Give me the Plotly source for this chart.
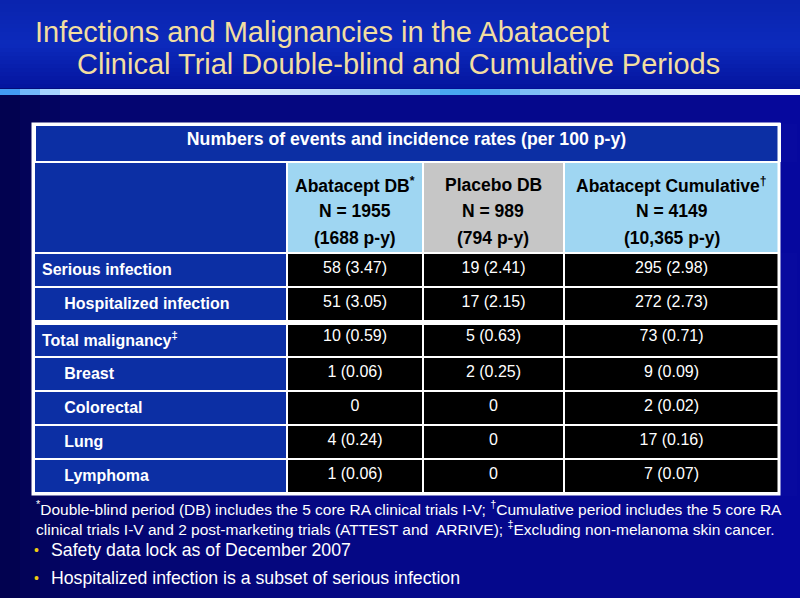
import plotly.graph_objects as go

W, H = 800, 598

# ---------------- data ----------------
title_lines = ["Infections and Malignancies in the Abatacept",
               "Clinical Trial Double-blind and Cumulative Periods"]
table_caption = "Numbers of events and incidence rates (per 100 p-y)"

group_names = ["Abatacept DB<sup>*</sup>", "Placebo DB", "Abatacept Cumulative<sup>†</sup>"]
group_n = ["1955", "989", "4149"]
group_py = ["1688", "794", "10,365"]

row_labels = ["Serious infection", "Hospitalized infection", "Total malignancy<sup>‡</sup>",
              "Breast", "Colorectal", "Lung", "Lymphoma"]
row_indent = [0, 1, 0, 1, 1, 1, 1]

abatacept_db_events = [58, 51, 10, 1, 0, 4, 1]
abatacept_db_rates = [3.47, 3.05, 0.59, 0.06, None, 0.24, 0.06]
placebo_db_events = [19, 17, 5, 2, 0, 0, 0]
placebo_db_rates = [2.41, 2.15, 0.63, 0.25, None, None, None]
cumulative_events = [295, 272, 73, 9, 2, 17, 7]
cumulative_rates = [2.98, 2.73, 0.71, 0.09, 0.02, 0.16, 0.07]

footnotes = [
    "<sup>*</sup>Double-blind period (DB) includes the 5 core RA clinical trials I-V; <sup>†</sup>Cumulative period includes the 5 core RA",
    "clinical trials I-V and 2 post-marketing trials (ATTEST and  ARRIVE); <sup>‡</sup>Excluding non-melanoma skin cancer.",
]
bullets = ["Safety data lock as of December 2007",
           "Hospitalized infection is a subset of serious infection"]

# ---------------- helpers ----------------
def fmt(events, rates):
    out = []
    for e, r in zip(events, rates):
        out.append(f"{e}" if (e == 0 or r is None) else f"{e} ({r:.2f})")
    return out

def px_y(y):
    return 1 - y / H

def px_x(x):
    return x / W

def lerp(c1, c2, t):
    a = [int(c1[i:i + 2], 16) for i in (1, 3, 5)]
    b = [int(c2[i:i + 2], 16) for i in (1, 3, 5)]
    return "#%02x%02x%02x" % tuple(round(a[k] + (b[k] - a[k]) * t) for k in range(3))

def grad(stops, t):
    for i in range(len(stops) - 1):
        t0, c0 = stops[i]
        t1, c1 = stops[i + 1]
        if t0 <= t <= t1:
            return lerp(c0, c1, (t - t0) / (t1 - t0) if t1 > t0 else 0)
    return stops[-1][1]

shapes = []
# body background: horizontal gradient
body_stops = [(0, "#02024c"), (0.1, "#04056c"), (0.5, "#05088a"), (0.9, "#0609 90".replace(" ", "")), (1, "#0608a0")]
N = 40
for i in range(N):
    t = (i + 0.5) / N
    shapes.append(dict(type="rect", xref="paper", yref="paper", layer="below",
                       x0=i / N, x1=(i + 1) / N + 0.002, y0=0, y1=px_y(88),
                       fillcolor=grad(body_stops, t), line=dict(width=0)))
# title band: vertical gradient
band_stops = [(0, "#0a24ae"), (0.5, "#0c2abc"), (1, "#04149e")]
M = 22
for i in range(M):
    t = (i + 0.5) / M
    shapes.append(dict(type="rect", xref="paper", yref="paper", layer="below",
                       x0=0, x1=1, y0=px_y(88 * (i + 1) / M + 0.5), y1=px_y(88 * i / M),
                       fillcolor=grad(band_stops, t), line=dict(width=0)))
# light rule under the title
rule_stops = [(0, "#2a8cf0"), (0.05, "#8cc8ff"), (0.1, "#f4f8ff"), (0.3, "#e8f0ff"),
              (0.45, "#a8cef8"), (0.58, "#3aa0f0"), (0.7, "#9ccaf8"), (0.85, "#e8f2ff"), (1, "#ffffff")]
for i in range(N):
    t = (i + 0.5) / N
    shapes.append(dict(type="rect", xref="paper", yref="paper", layer="below",
                       x0=i / N, x1=(i + 1) / N + 0.002, y0=px_y(95), y1=px_y(89),
                       fillcolor=grad(rule_stops, t), line=dict(width=0)))

# ---------------- table ----------------
blue = "#0c2fa4"
light = "#9fd6f2"
grey = "#c6c6c6"
black = "#000000"
tfont = "Liberation Sans, Arial"
col_widths = [253, 136, 141, 215]

label_cells = [("\u00a0" * 5 if ind else "") + "<b>" + lab + "</b>"
               for lab, ind in zip(row_labels, row_indent)]
cell_cols = [label_cells,
             fmt(abatacept_db_events, abatacept_db_rates),
             fmt(placebo_db_events, placebo_db_rates),
             fmt(cumulative_events, cumulative_rates)]

x0t, x1t = 34, 779
fig = go.Figure()
fig.add_trace(go.Table(
    domain=dict(x=[px_x(x0t), px_x(x1t)], y=[px_y(162), px_y(124)]),
    header=dict(values=[table_caption], fill_color=blue, align="center",
                font=dict(family=tfont, size=17.7, color="white", weight="bold"),
                line=dict(color="white", width=3), height=38),
    cells=dict(values=[[]], fill_color=blue, line=dict(color="white", width=2)),
))
fig.add_trace(go.Table(
    domain=dict(x=[px_x(x0t), px_x(x1t)], y=[px_y(496), px_y(162)]),
    columnwidth=col_widths,
    header=dict(values=["", "", "", ""], fill_color=[blue, light, grey, light],
                line=dict(color="white", width=2), height=91),
    cells=dict(values=cell_cols, fill_color=[blue, black, black, black],
               align=["left", "center", "center", "center"],
               font=dict(family=tfont, size=16, color="white"),
               line=dict(color="white", width=2), height=34),
))
# thick separator between infections and malignancies, outer border
shapes.append(dict(type="line", xref="paper", yref="paper", layer="above",
                   x0=px_x(x0t), x1=px_x(x1t), y0=px_y(323), y1=px_y(323),
                   line=dict(color="white", width=4)))
shapes.append(dict(type="rect", xref="paper", yref="paper", layer="above",
                   x0=px_x(x0t - 1), x1=px_x(x1t), y0=px_y(494), y1=px_y(124),
                   line=dict(color="white", width=3)))

annotations = []
# column header texts (three centred lines per group column)
tot = float(sum(col_widths))
edges = [x0t]
for w in col_widths:
    edges.append(edges[-1] + w / tot * (x1t - x0t))
for j, (nm, n, py) in enumerate(zip(group_names, group_n, group_py)):
    cx = (edges[j + 1] + edges[j + 2]) / 2
    for k, line in enumerate([nm, f"N = {n}", f"({py} p-y)"]):
        annotations.append(dict(x=px_x(cx), y=px_y(185 + 26.5 * k), xref="paper", yref="paper",
                                xanchor="center", yanchor="middle", text=f"<b>{line}</b>",
                                showarrow=False,
                                font=dict(family=tfont, size=17.5, color="black")))

title_font = dict(family="Liberation Sans, Arial", size=29, color="#f2dea0")
annotations.append(dict(x=px_x(33), y=px_y(32), xref="paper", yref="paper", xanchor="left",
                        yanchor="middle", text=title_lines[0], showarrow=False, font=title_font))
annotations.append(dict(x=px_x(75), y=px_y(64), xref="paper", yref="paper", xanchor="left",
                        yanchor="middle", text=title_lines[1], showarrow=False, font=title_font))
narrow = "Liberation Sans, Arial"
for i, fn in enumerate(footnotes):
    annotations.append(dict(x=px_x(34), y=px_y(508 + 20 * i), xref="paper", yref="paper",
                            xanchor="left", yanchor="middle", text=fn, showarrow=False,
                            font=dict(family=narrow, size=15.5, color="white")))
for i, b in enumerate(bullets):
    yy = px_y(550 + 28 * i)
    annotations.append(dict(x=px_x(32), y=yy, xref="paper", yref="paper", xanchor="left",
                            yanchor="middle", text="•", showarrow=False,
                            font=dict(family="Liberation Sans", size=14, color="#f0cc10")))
    annotations.append(dict(x=px_x(49), y=yy, xref="paper", yref="paper", xanchor="left",
                            yanchor="middle", text=b, showarrow=False,
                            font=dict(family=narrow, size=17.7, color="white")))

fig.update_layout(width=W, height=H, margin=dict(l=0, r=0, t=0, b=0),
                  paper_bgcolor="#06087e", plot_bgcolor="#06087e",
                  shapes=shapes, annotations=annotations, showlegend=False)
fig.write_html("out.html", config={"displayModeBar": False},
               post_script="document.body.style.margin='0px';document.body.style.overflow='hidden';")
